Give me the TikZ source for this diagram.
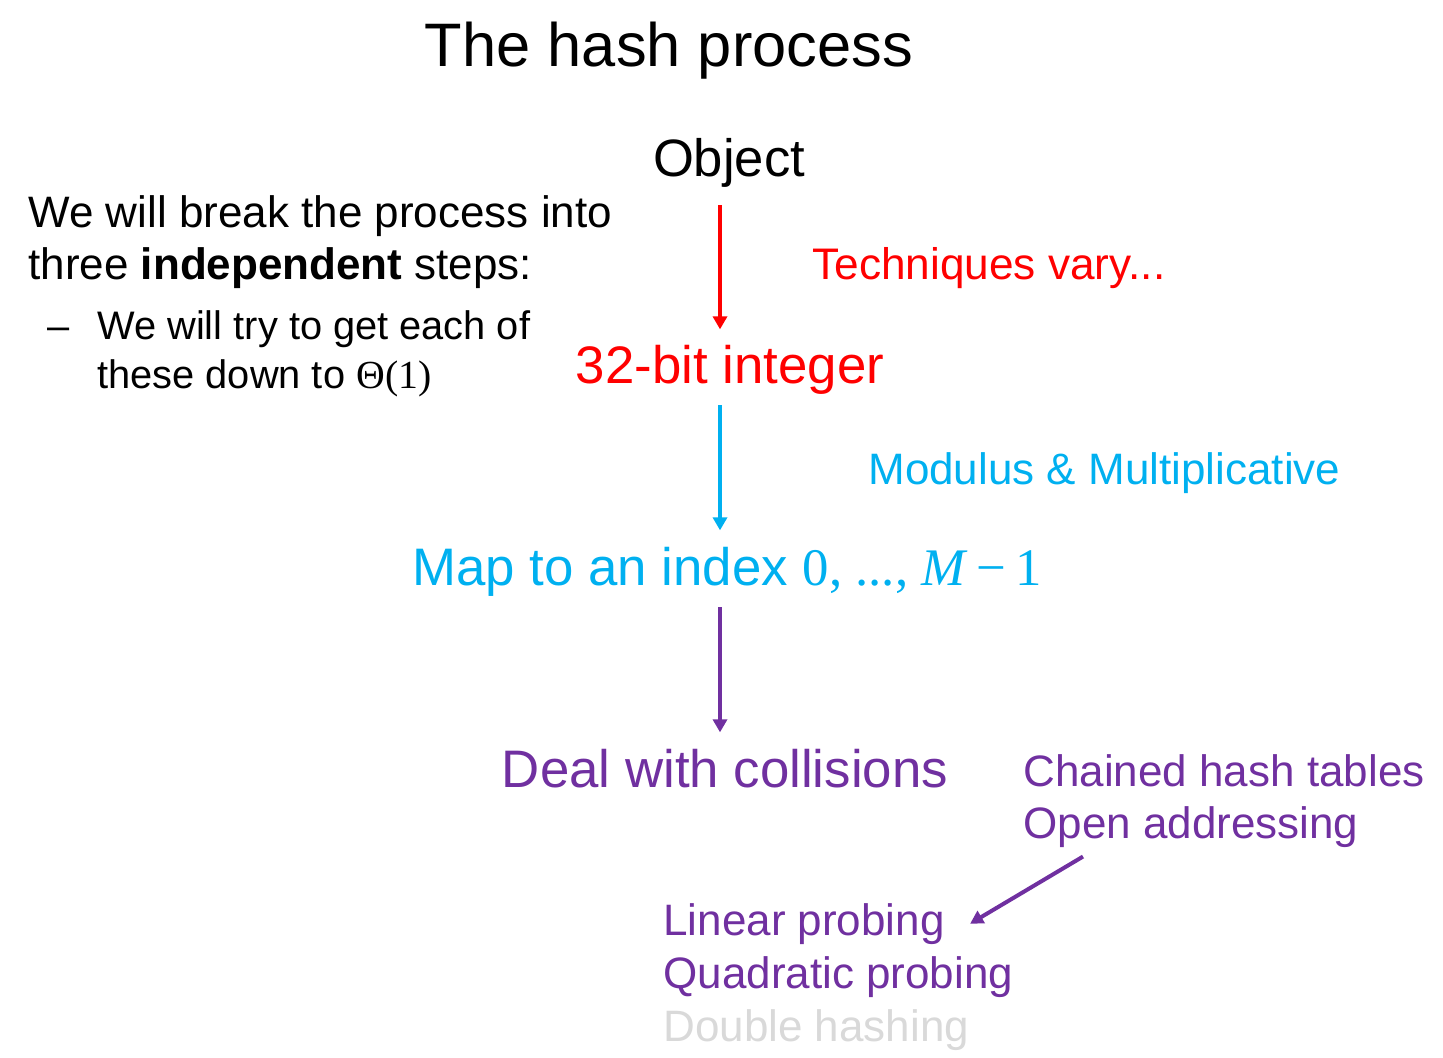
\documentclass[tikz,border=0pt]{standalone}
\usepackage{fontspec}
\setmainfont{Liberation Sans}
\newfontfamily\timesfont{Liberation Serif}
\usepackage{xcolor}
\usetikzlibrary{arrows.meta,positioning,calc}

\definecolor{hashred}{HTML}{FF0000}
\definecolor{hashcyan}{HTML}{00B0F0}
\definecolor{hashpurple}{HTML}{7030A0}
\definecolor{hashgray}{HTML}{D9D9D9}

\newcommand{\fs}[1]{\fontsize{#1}{1.2\dimexpr#1pt\relax}\selectfont}

\begin{document}
\begin{tikzpicture}[x=0.5pt,y=-0.5pt,>={Triangle[length=6.5pt,width=7pt]},
 txt/.style={inner sep=0pt,anchor=base west},
 mid/.style={inner sep=0pt,anchor=base},
 flow/.style={->,line width=2pt}]
 \useasboundingbox (0,0) rectangle (1443,1057);
 \coordinate (axis) at (720,0);
 % title
 \node[mid,font=\fs{30.7}] (title) at (669,66) {The hash process};
 % left remarks
 \node[txt,font=\fs{22}] (why1) at (28,227) {We will break the process into};
 \node[txt,font=\fs{22}] (why2) at (28,279) {three \textbf{independent} steps:};
 \node[txt,font=\fs{19.9}] (dash) at (47,339) {–};
 \node[txt,font=\fs{19.9}] (sub1) at (97,339) {We will try to get each of};
 \node[txt,font=\fs{19.9}] (sub2) at (97,388) {these down to {\timesfont Θ(1)}};
 % the three steps
 \node[mid,font=\fs{26.3}] (obj) at (729,176) {Object};
 \node[mid,font=\fs{26.4},text=hashred] (int) at (730,383) {32-bit integer};
 \node[txt,font=\fs{26.4},text=hashcyan] (map) at (412,585)
 {Map to an index {\timesfont 0, ..., \textit{M}\,−\,1}};
 \node[mid,font=\fs{26.4},text=hashpurple] (deal) at (725,787) {Deal with collisions};
 \draw[flow,hashred,shorten <=9pt,shorten >=7.5pt] (obj.south -| axis) -- (int.north -| axis);
 \draw[flow,hashcyan,shorten <=5.5pt,shorten >=8pt] (int.south -| axis) -- (map.north -| axis);
 \draw[flow,hashpurple,shorten <=5.5pt,shorten >=8pt] (map.south -| axis) -- (deal.north -| axis);
 % techniques
 \node[txt,font=\fs{22.1},text=hashred] (tech) at (812,279) {Techniques vary...};
 \node[txt,font=\fs{22},text=hashcyan] (mod) at (868,484) {Modulus \& Multiplicative};
 \node[txt,font=\fs{22},text=hashpurple] (chain) at (1023,786) {Chained hash tables};
 \node[txt,font=\fs{22},text=hashpurple] (open) at (1023,838) {Open addressing};
 \node[txt,font=\fs{22},text=hashpurple] (lin) at (663,935) {Linear probing};
 \node[txt,font=\fs{22},text=hashpurple] (quad) at (663,988) {Quadratic probing};
 \node[txt,font=\fs{22},text=hashgray] (dbl) at (663,1041) {Double hashing};
 \draw[flow,hashpurple] ([xshift=30pt,yshift=-4.5pt]open.south west) -- ([xshift=12.5pt,yshift=0pt]lin.east);
\end{tikzpicture}
\end{document}
